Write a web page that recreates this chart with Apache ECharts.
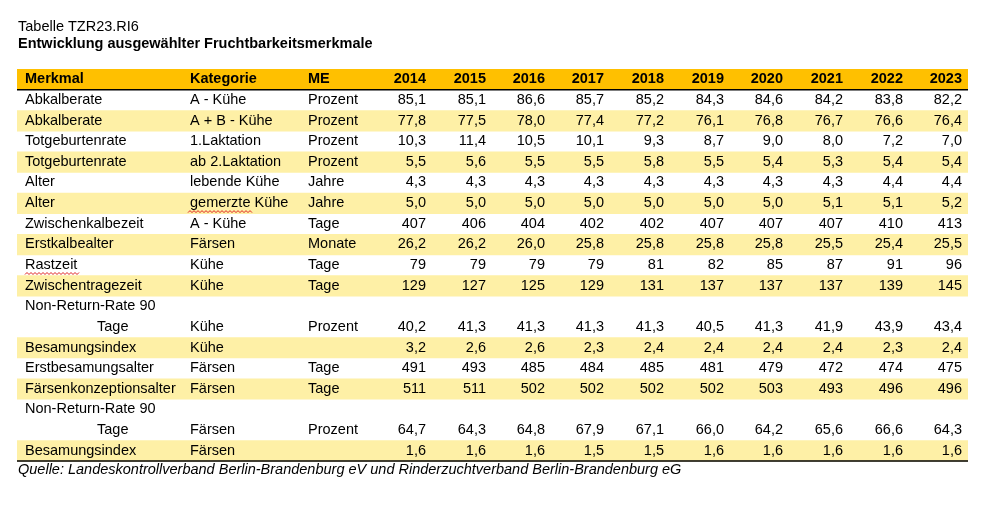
<!DOCTYPE html>
<html>
<head>
<meta charset="utf-8">
<script src="https://cdn.jsdelivr.net/npm/echarts@6/dist/echarts.min.js"></script>
<style>
  html, body { margin: 0; padding: 0; background: #ffffff; }
  #chart { width: 992px; height: 516px; }
</style>
</head>
<body>
<div id="chart"></div>
<script>
// ---------------- data ----------------
const tableTitle = 'Tabelle TZR23.RI6';
const tableSubtitle = 'Entwicklung ausgewählter Fruchtbarkeitsmerkmale';
const sourceNote = 'Quelle: Landeskontrollverband Berlin-Brandenburg eV und Rinderzuchtverband Berlin-Brandenburg eG';

const headers = ['Merkmal', 'Kategorie', 'ME'];
const years = ['2014', '2015', '2016', '2017', '2018', '2019', '2020', '2021', '2022', '2023'];

const merkmal = [
  'Abkalberate', 'Abkalberate', 'Totgeburtenrate', 'Totgeburtenrate', 'Alter', 'Alter',
  'Zwischenkalbezeit', 'Erstkalbealter', 'Rastzeit', 'Zwischentragezeit',
  'Non-Return-Rate 90\nTage', 'Besamungsindex', 'Erstbesamungsalter', 'Färsenkonzeptionsalter',
  'Non-Return-Rate 90\nTage', 'Besamungsindex'
];
const kategorie = [
  'A - Kühe', 'A + B - Kühe', '1.Laktation', 'ab 2.Laktation', 'lebende Kühe', 'gemerzte Kühe',
  'A - Kühe', 'Färsen', 'Kühe', 'Kühe', 'Kühe', 'Kühe', 'Färsen', 'Färsen', 'Färsen', 'Färsen'
];
const einheit = [
  'Prozent', 'Prozent', 'Prozent', 'Prozent', 'Jahre', 'Jahre', 'Tage', 'Monate', 'Tage', 'Tage',
  'Prozent', '', 'Tage', 'Tage', 'Prozent', ''
];
const decimals = [1, 1, 1, 1, 1, 1, 0, 1, 0, 0, 1, 1, 0, 0, 1, 1];

const abkalberateA   = [85.1, 85.1, 86.6, 85.7, 85.2, 84.3, 84.6, 84.2, 83.8, 82.2];
const abkalberateAB  = [77.8, 77.5, 78.0, 77.4, 77.2, 76.1, 76.8, 76.7, 76.6, 76.4];
const totgeb1        = [10.3, 11.4, 10.5, 10.1, 9.3, 8.7, 9.0, 8.0, 7.2, 7.0];
const totgeb2        = [5.5, 5.6, 5.5, 5.5, 5.8, 5.5, 5.4, 5.3, 5.4, 5.4];
const alterLebend    = [4.3, 4.3, 4.3, 4.3, 4.3, 4.3, 4.3, 4.3, 4.4, 4.4];
const alterGemerzt   = [5.0, 5.0, 5.0, 5.0, 5.0, 5.0, 5.0, 5.1, 5.1, 5.2];
const zwischenkalbe  = [407, 406, 404, 402, 402, 407, 407, 407, 410, 413];
const erstkalbe      = [26.2, 26.2, 26.0, 25.8, 25.8, 25.8, 25.8, 25.5, 25.4, 25.5];
const rastzeit       = [79, 79, 79, 79, 81, 82, 85, 87, 91, 96];
const zwischentrage  = [129, 127, 125, 129, 131, 137, 137, 137, 139, 145];
const nrrKuehe       = [40.2, 41.3, 41.3, 41.3, 41.3, 40.5, 41.3, 41.9, 43.9, 43.4];
const biKuehe        = [3.2, 2.6, 2.6, 2.3, 2.4, 2.4, 2.4, 2.4, 2.3, 2.4];
const erstbesamung   = [491, 493, 485, 484, 485, 481, 479, 472, 474, 475];
const konzeption     = [511, 511, 502, 502, 502, 502, 503, 493, 496, 496];
const nrrFaersen     = [64.7, 64.3, 64.8, 67.9, 67.1, 66.0, 64.2, 65.6, 66.6, 64.3];
const biFaersen      = [1.6, 1.6, 1.6, 1.5, 1.5, 1.6, 1.6, 1.6, 1.6, 1.6];

const values = [abkalberateA, abkalberateAB, totgeb1, totgeb2, alterLebend, alterGemerzt,
  zwischenkalbe, erstkalbe, rastzeit, zwischentrage, nrrKuehe, biKuehe, erstbesamung,
  konzeption, nrrFaersen, biFaersen];

// ---------------- layout / style ----------------
const FONT = '"Liberation Sans", Arial, sans-serif';
const FS = 14.5;
const TABLE_L = 17, TABLE_R = 968;
const COL_MERKMAL = 25, COL_INDENT = 97, COL_KAT = 190, COL_ME = 308;
const COL_YEAR_RIGHT = [426, 486, 545, 604, 664, 724, 783, 843, 903, 962];
const HEADER_BG = '#FFC000';
const SHADE_BG = '#FEF0A6';
// spell-check marks (decoration as in the source screenshot): [row, column, width]
const spellMarks = [[5, 'kat', 65], [8, 'merkmal', 54]];

function fmt(v, d) { return v.toFixed(d).replace('.', ','); }

// Build visual lines (slots) from the data rows
const lines = [{ header: true }];
merkmal.forEach((m, r) => {
  const parts = m.split('\n');
  const shade = r % 2 === 1;
  if (parts.length > 1) {
    lines.push({ row: r, shade, first: true, merkmal: parts[0], cells: false });
    lines.push({ row: r, shade, merkmal: parts[1], indent: true, cells: true });
  } else {
    lines.push({ row: r, shade, merkmal: m, cells: true });
  }
});
const slotNames = lines.map((l, i) => l.header ? 'Kopf' : (l.merkmal + ' ' + i));

function txt(x, y, text, opt) {
  opt = opt || {};
  return {
    type: 'text', x: x, y: y,
    style: {
      text: text, fill: '#000', fontFamily: FONT, fontSize: FS,
      fontWeight: opt.bold ? 'bold' : 'normal',
      fontStyle: opt.italic ? 'italic' : 'normal',
      align: opt.align || 'left', verticalAlign: 'middle'
    }
  };
}

function wave(x, y, w) {
  const pts = [];
  for (let k = 0; k <= w; k += 2) pts.push([x + k, y + ((k / 2) % 2 === 0 ? 1 : -1)]);
  return { type: 'polyline', shape: { points: pts }, style: { stroke: '#E02020', lineWidth: 1, fill: null } };
}

function renderItem(params, api) {
  const i = params.dataIndex;
  const line = lines[i];
  const y = api.coord([0, i])[1];
  const h = api.size([0, 1])[1];
  const children = [];
  if (line.header) {
    children.push({ type: 'rect', shape: { x: TABLE_L, y: y - h / 2, width: TABLE_R - TABLE_L, height: h }, style: { fill: HEADER_BG } });
    children.push(txt(COL_MERKMAL, y, headers[0], { bold: true }));
    children.push(txt(COL_KAT, y, headers[1], { bold: true }));
    children.push(txt(COL_ME, y, headers[2], { bold: true }));
    years.forEach((yr, j) => children.push(txt(COL_YEAR_RIGHT[j], y, yr, { bold: true, align: 'right' })));
    children.push({ type: 'line', shape: { x1: TABLE_L, y1: y + h / 2, x2: TABLE_R, y2: y + h / 2 }, style: { stroke: '#000', lineWidth: 1.5 } });
    return { type: 'group', children };
  }
  if (line.shade) {
    children.push({ type: 'rect', shape: { x: TABLE_L, y: y - h / 2, width: TABLE_R - TABLE_L, height: h + 0.5 }, style: { fill: SHADE_BG } });
  }
  const r = line.row;
  children.push(txt(line.indent ? COL_INDENT : COL_MERKMAL, y, line.merkmal));
  if (line.cells) {
    children.push(txt(COL_KAT, y, kategorie[r]));
    if (einheit[r]) children.push(txt(COL_ME, y, einheit[r]));
    values[r].forEach((v, j) => children.push(txt(COL_YEAR_RIGHT[j], y, fmt(v, decimals[r]), { align: 'right' })));
    spellMarks.forEach(s => {
      if (s[0] === r) children.push(wave(s[1] === 'kat' ? COL_KAT - 2 : COL_MERKMAL, y + 8.5, s[2]));
    });
  }
  if (i === lines.length - 1) {
    children.push({ type: 'line', shape: { x1: TABLE_L, y1: y + h / 2, x2: TABLE_R, y2: y + h / 2 }, style: { stroke: '#000', lineWidth: 1.5 } });
  }
  return { type: 'group', children };
}

const chart = echarts.init(document.getElementById('chart'), null, { renderer: 'canvas' });
chart.setOption({
  animation: false,
  backgroundColor: '#ffffff',
  grid: { left: 0, right: 0, top: 69, bottom: 55 },
  xAxis: { type: 'value', min: 0, max: 992, show: false },
  yAxis: { type: 'category', data: slotNames, inverse: true, show: false },
  graphic: [
    { type: 'text', x: 18, y: 27, style: { text: tableTitle, fill: '#000', fontFamily: FONT, fontSize: FS, verticalAlign: 'middle' } },
    { type: 'text', x: 18, y: 44, style: { text: tableSubtitle, fill: '#000', fontFamily: FONT, fontSize: FS, fontWeight: 'bold', verticalAlign: 'middle' } },
    { type: 'text', x: 18, y: 470, style: { text: sourceNote, fill: '#000', fontFamily: FONT, fontSize: FS, fontStyle: 'italic', verticalAlign: 'middle' } }
  ],
  series: [{
    type: 'custom',
    renderItem: renderItem,
    data: lines.map((l, i) => [0, i]),
    encode: { x: 0, y: 1 },
    silent: true
  }]
});
</script>
</body>
</html>
